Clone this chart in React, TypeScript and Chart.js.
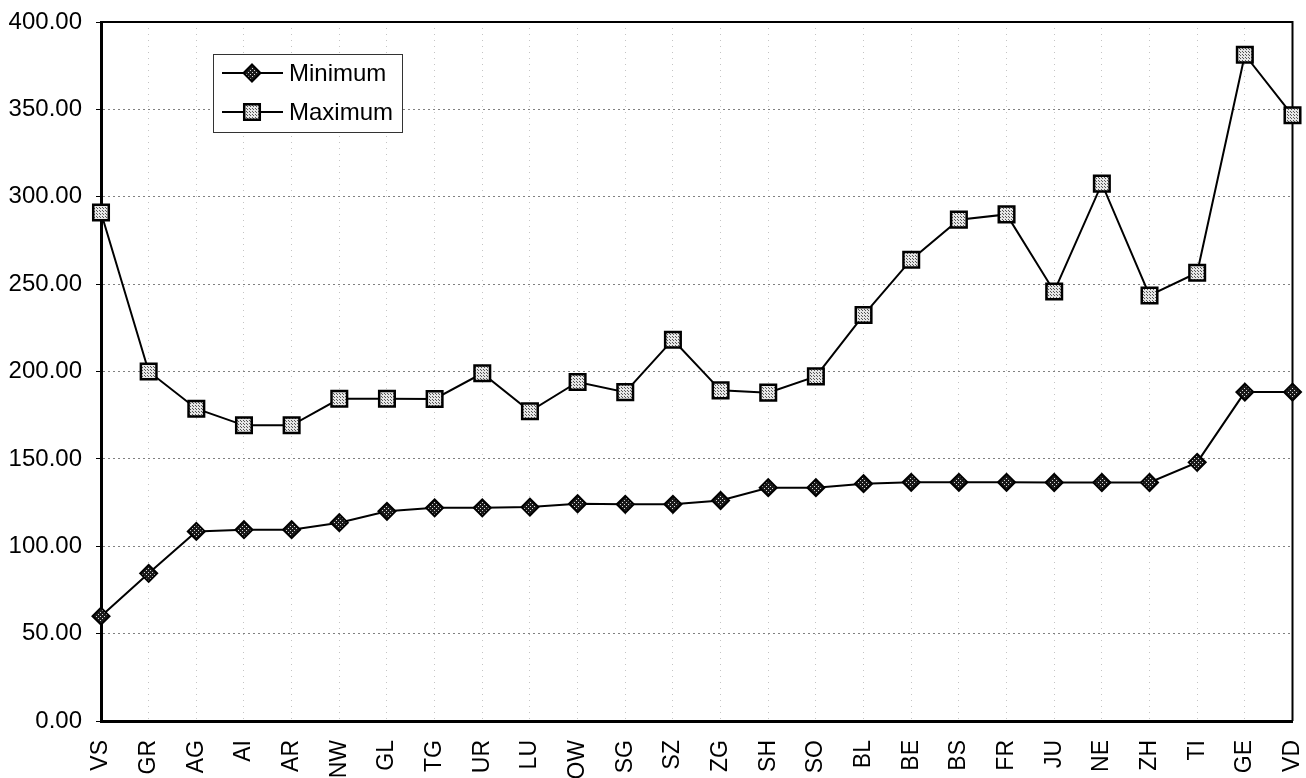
import React, { useEffect, useRef } from "react";
import { Chart, registerables } from "chart.js";

Chart.register(...registerables);

const categories = ["VS", "GR", "AG", "AI", "AR", "NW", "GL", "TG", "UR", "LU", "OW", "SG", "SZ", "ZG", "SH", "SO", "BL", "BE", "BS", "FR", "JU", "NE", "ZH", "TI", "GE", "VD"];
const minimumValues = [60, 84.5, 108.5, 109.5, 109.5, 113.5, 120, 122, 122, 122.4, 124.3, 124, 124, 126.2, 133.5, 133.5, 135.8, 136.6, 136.6, 136.6, 136.5, 136.5, 136.5, 148, 188.2, 188.2];
const maximumValues = [291, 200, 178.7, 169.2, 169.2, 184.4, 184.4, 184.3, 199, 177.2, 194, 188.2, 218.2, 189.2, 187.9, 197.2, 232.3, 264, 286.9, 289.9, 245.8, 307.5, 243.5, 256.5, 381.3, 346.6];
const seriesNames = ["Minimum", "Maximum"];
const yMin = 0;
const yMax = 400;
const yStep = 50;

const FONT = "'Liberation Sans', Arial, sans-serif";

function makePattern(bg: string, dot: string, size: number): CanvasPattern | string {
  const c = document.createElement("canvas");
  c.width = size;
  c.height = size;
  const g = c.getContext("2d");
  if (!g) return bg;
  g.fillStyle = bg;
  g.fillRect(0, 0, size, size);
  g.fillStyle = dot;
  g.fillRect(0, 0, 1, 1);
  g.fillRect(Math.floor(size / 2), Math.floor(size / 2), 1, 1);
  const p = g.createPattern(c, "repeat");
  return p || bg;
}

function drawMarker(ctx: CanvasRenderingContext2D, style: string, x: number, y: number, r: number, fill: any, bw: number) {
  ctx.save();
  ctx.beginPath();
  if (style === "rectRot") {
    ctx.moveTo(x, y - r);
    ctx.lineTo(x + r, y);
    ctx.lineTo(x, y + r);
    ctx.lineTo(x - r, y);
    ctx.closePath();
  } else {
    const s = r * Math.SQRT1_2;
    ctx.rect(x - s, y - s, 2 * s, 2 * s);
  }
  ctx.fillStyle = fill;
  ctx.fill();
  ctx.lineWidth = bw;
  ctx.strokeStyle = "#000";
  ctx.stroke();
  ctx.restore();
}

const framePlugin = {
  id: "frameAndLegend",
  beforeDatasetsDraw(chart: any) {
    const { ctx, chartArea } = chart;
    ctx.save();
    ctx.strokeStyle = "#000";
    ctx.lineWidth = 2;
    ctx.beginPath();
    ctx.moveTo(chartArea.left, chartArea.top);
    ctx.lineTo(chartArea.right, chartArea.top);
    ctx.lineTo(chartArea.right, chartArea.bottom);
    ctx.stroke();
    ctx.restore();
  },
  afterDatasetsDraw(chart: any) {
    const { ctx, chartArea } = chart;
    const bx = chartArea.left + 112;
    const by = chartArea.top + 32;
    const bw = 189;
    const bh = 78;
    ctx.save();
    ctx.fillStyle = "#fff";
    ctx.fillRect(bx, by, bw, bh);
    ctx.strokeStyle = "#333";
    ctx.lineWidth = 1;
    ctx.strokeRect(bx + 0.5, by + 0.5, bw, bh);
    chart.data.datasets.forEach((ds: any, i: number) => {
      const ry = by + 19 + i * 39;
      ctx.strokeStyle = "#000";
      ctx.lineWidth = 2;
      ctx.beginPath();
      ctx.moveTo(bx + 9, ry);
      ctx.lineTo(bx + 70, ry);
      ctx.stroke();
      drawMarker(ctx, ds.pointStyle, bx + 39, ry, ds.pointRadius, ds.pointBackgroundColor, ds.pointBorderWidth);
      ctx.fillStyle = "#000";
      ctx.font = `24px ${FONT}`;
      ctx.textBaseline = "middle";
      ctx.textAlign = "left";
      ctx.fillText(ds.label, bx + 76, ry + 1);
    });
    ctx.restore();
  },
};

export default function App() {
  const ref = useRef<HTMLCanvasElement | null>(null);

  useEffect(() => {
    if (!ref.current) return;
    const diamondFill = makePattern("#1a1a1a", "#d8d8d8", 4);
    const squareFill = makePattern("#e6e6e6", "#555555", 3);
    const chart = new Chart(ref.current, {
      type: "line",
      data: {
        labels: categories,
        datasets: [
          {
            label: seriesNames[0],
            data: minimumValues,
            borderColor: "#000",
            borderWidth: 2,
            pointStyle: "rectRot",
            pointRadius: 8.5,
            pointBorderWidth: 2,
            pointBackgroundColor: diamondFill as any,
            pointBorderColor: "#000",
            tension: 0,
            clip: false as any,
          },
          {
            label: seriesNames[1],
            data: maximumValues,
            borderColor: "#000",
            borderWidth: 2,
            pointStyle: "rect",
            pointRadius: 11,
            pointBorderWidth: 2.5,
            pointBackgroundColor: squareFill as any,
            pointBorderColor: "#000",
            tension: 0,
            clip: false as any,
          },
        ],
      },
      options: {
        animation: false,
        responsive: false,
        devicePixelRatio: 1,
        layout: { padding: { top: 22, right: 13, left: 0, bottom: 0 } },
        plugins: {
          legend: { display: false },
          tooltip: { enabled: false },
        },
        scales: {
          x: {
            type: "category",
            offset: false,
            grid: {
              display: true,
              drawTicks: false,
              color: "#c4c4c4",
              borderDash: [1, 5],
              lineWidth: 1,
            } as any,
            border: { display: true, color: "#000", width: 3, dash: [1, 5] } as any,
            ticks: {
              color: "#000",
              font: { family: FONT, size: 23 },
              minRotation: 90,
              maxRotation: 90,
              autoSkip: false,
              padding: 19,
            },
            afterFit: (scale: any) => {
              scale.height = 57;
              scale.paddingLeft = 0;
              scale.paddingRight = 0;
            },
          },
          y: {
            min: yMin,
            max: yMax,
            grid: {
              color: "#808080",
              lineWidth: 1,
              tickLength: 5,
              tickColor: "#000",
              tickBorderDash: [],
            } as any,
            border: { display: true, color: "#000", width: 3, dash: [2, 3] } as any,
            ticks: {
              stepSize: yStep,
              color: "#000",
              font: { family: FONT, size: 24 },
              padding: 14,
              callback: (v: any) => Number(v).toFixed(2),
            },
            afterFit: (scale: any) => {
              scale.width = 101;
              scale.paddingTop = 0;
              scale.paddingBottom = 0;
            },
          },
        },
      },
      plugins: [framePlugin],
    });
    return () => chart.destroy();
  }, []);

  return (
    <div style={{ position: "fixed", left: 0, top: 0, width: 1306, height: 778, background: "#fff" }}>
      <canvas ref={ref} width={1306} height={778} style={{ display: "block" }} />
    </div>
  );
}
